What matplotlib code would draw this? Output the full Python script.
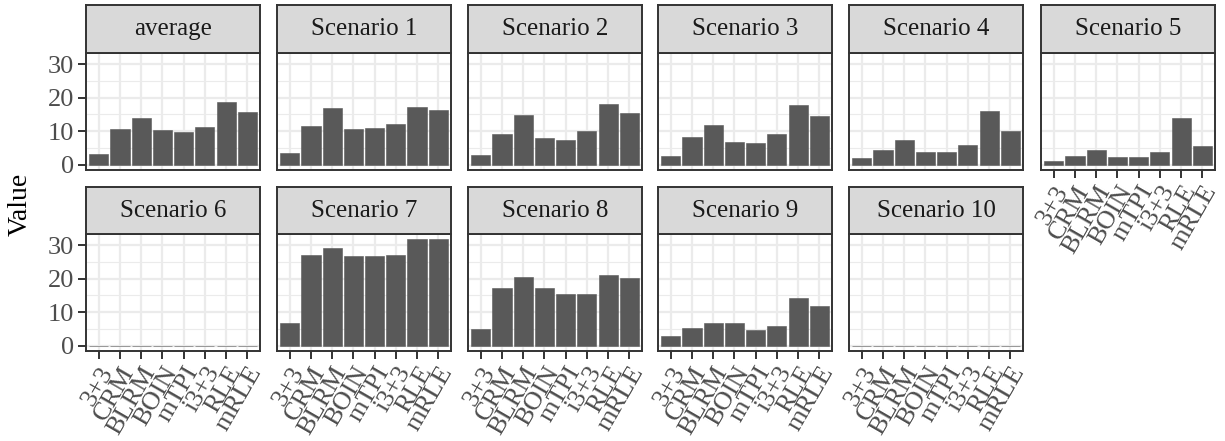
"""
Faceted bar chart: value per design, one panel per scenario (ggplot-like theme_bw).
"""

import numpy as np
import matplotlib
matplotlib.use("Agg")
import matplotlib.pyplot as plt

plt.rcParams["font.family"] = ["Liberation Serif", "DejaVu Serif"]

# Designs (x categories)
DESIGNS = ["3+3", "CRM", "BLRM", "BOIN", "mTPI", "i3+3", "RLE", "mRLE"]

# Panel titles in facet order
PANELS = ["average", "Scenario 1", "Scenario 2", "Scenario 3", "Scenario 4",
          "Scenario 5", "Scenario 6", "Scenario 7", "Scenario 8", "Scenario 9",
          "Scenario 10"]

# Values
average = [3.3, 10.5, 13.9, 10.2, 9.6, 11.2, 18.6, 15.6]
scen1 = [3.6, 11.5, 16.9, 10.6, 10.9, 12.1, 17.2, 16.3]
scen2 = [3.0, 9.1, 14.8, 7.9, 7.3, 10.0, 18.1, 15.4]
scen3 = [2.7, 8.2, 11.8, 6.9, 6.6, 9.1, 17.8, 14.5]
scen4 = [2.1, 4.5, 7.3, 3.9, 3.9, 6.0, 16.0, 10.0]
scen5 = [1.1, 2.7, 4.5, 2.4, 2.4, 3.9, 13.9, 5.7]
scen6 = [0, 0, 0, 0, 0, 0, 0, 0]
scen7 = [6.8, 26.9, 29.0, 26.6, 26.6, 26.9, 31.7, 31.7]
scen8 = [5.0, 17.3, 20.6, 17.3, 15.4, 15.4, 21.2, 20.3]
scen9 = [2.8, 5.3, 6.8, 6.8, 4.7, 5.9, 14.2, 11.8]
scen10 = [0, 0, 0, 0, 0, 0, 0, 0]

VALUES = [average, scen1, scen2, scen3, scen4, scen5,
          scen6, scen7, scen8, scen9, scen10]

W, H = 1225, 441
BAR_COLOR = "#595959"
DARK = "#333333"
GRID = "#EBEBEB"

# layout in pixels
COL_LEFT = [86, 277, 468, 658, 849, 1041]
PANEL_W = 174
ROWS = [(5, 53, 170), (187, 234, 351)]  # strip top, strip bottom, panel bottom


def fx(px):
    return px / W


def fy(py):
    return 1 - py / H


def main():
    fig = plt.figure(figsize=(W / 100, H / 100), dpi=100)

    ymax = max(max(v) for v in VALUES)
    pad = ymax * 0.05
    x = np.arange(1, len(DESIGNS) + 1)

    for i, (name, vals) in enumerate(zip(PANELS, VALUES)):
        r, c = divmod(i, 6)
        s_top, s_bot, p_bot = ROWS[r]
        left = COL_LEFT[c]

        ax = fig.add_axes([fx(left), fy(p_bot), fx(PANEL_W),
                           (p_bot - s_bot) / H])
        ax.set_xlim(0.4, len(DESIGNS) + 0.6)
        ax.set_ylim(-pad, ymax + pad)
        ax.set_yticks([0, 10, 20, 30])
        ax.set_yticks([5, 15, 25], minor=True)
        ax.set_xticks(x)
        ax.set_axisbelow(True)
        ax.grid(which="major", color=GRID, lw=1.6)
        ax.grid(which="minor", axis="y", color=GRID, lw=0.8)
        ax.bar(x, vals, width=0.9, color=BAR_COLOR, edgecolor=BAR_COLOR,
               linewidth=0.4, zorder=2)
        for sp in ax.spines.values():
            sp.set_color(DARK)
            sp.set_linewidth(1.4)
        ax.tick_params(which="minor", length=0)
        ax.tick_params(which="major", length=5.5, width=1.4, color=DARK,
                       labelcolor="#4D4D4D", labelsize=19, pad=3)

        if c == 0:
            ax.set_yticklabels(["0", "10", "20", "30"])
        else:
            ax.tick_params(axis="y", which="major", length=0, labelleft=False)

        bottom = (r == 1) or (c == 5)
        if bottom:
            ax.set_xticklabels(DESIGNS, rotation=60, ha="right", va="top",
                               rotation_mode="anchor")
        else:
            ax.tick_params(axis="x", which="major", length=0,
                           labelbottom=False)

        # facet strip
        sax = fig.add_axes([fx(left), fy(s_bot), fx(PANEL_W),
                            (s_bot - s_top) / H])
        sax.set_facecolor("#D9D9D9")
        sax.set_xticks([])
        sax.set_yticks([])
        for sp in sax.spines.values():
            sp.set_color(DARK)
            sp.set_linewidth(1.4)
        sax.text(0.5, 0.5, name, ha="center", va="center", fontsize=18,
                 color="#1A1A1A", transform=sax.transAxes)

    fig.text(fx(20), fy(204), "Value", rotation=90, ha="center",
             va="center", fontsize=20, color="black")

    fig.savefig("out.png", dpi=100)


if __name__ == "__main__":
    main()
